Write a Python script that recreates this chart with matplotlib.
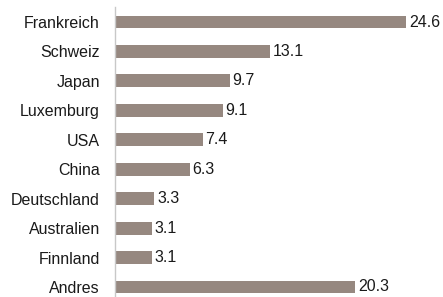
import matplotlib
matplotlib.use("Agg")
import matplotlib.pyplot as plt
from matplotlib import font_manager

countries = ["Frankreich", "Schweiz", "Japan", "Luxemburg", "USA", "China",
             "Deutschland", "Australien", "Finnland", "Andres"]
values = [24.6, 13.1, 9.7, 9.1, 7.4, 6.3, 3.3, 3.1, 3.1, 20.3]

names = {f.name for f in font_manager.fontManager.ttflist}
family = "Liberation Sans Narrow" if "Liberation Sans Narrow" in names else "Liberation Sans"
plt.rcParams["font.family"] = family

fig = plt.figure(figsize=(4.43, 2.97), dpi=100)
ax = fig.add_axes((115 / 443, 0, 1 - 115 / 443, 1 - 7.3 / 297))

pos = list(range(len(countries)))
ax.barh(pos, values, height=0.44, color="#968880")
for p, v in zip(pos, values):
    ax.text(v + 0.25, p, f"{v:.1f}", va="center", ha="left", fontsize=11.5, color="#1a1a1a")

ax.set_xlim(0, (443 - 115) / ((406 - 115) / 24.6))
ax.set_ylim(9.34, -0.5)
ax.set_yticks(pos)
ax.set_yticklabels(countries, fontsize=11.5, color="#1a1a1a")
ax.tick_params(axis="y", length=0, pad=11)
ax.set_xticks([])
for s in ["top", "right", "bottom"]:
    ax.spines[s].set_visible(False)
ax.spines["left"].set_color("#c8c8c8")
ax.spines["left"].set_linewidth(1)

fig.savefig("out.png", dpi=100)
